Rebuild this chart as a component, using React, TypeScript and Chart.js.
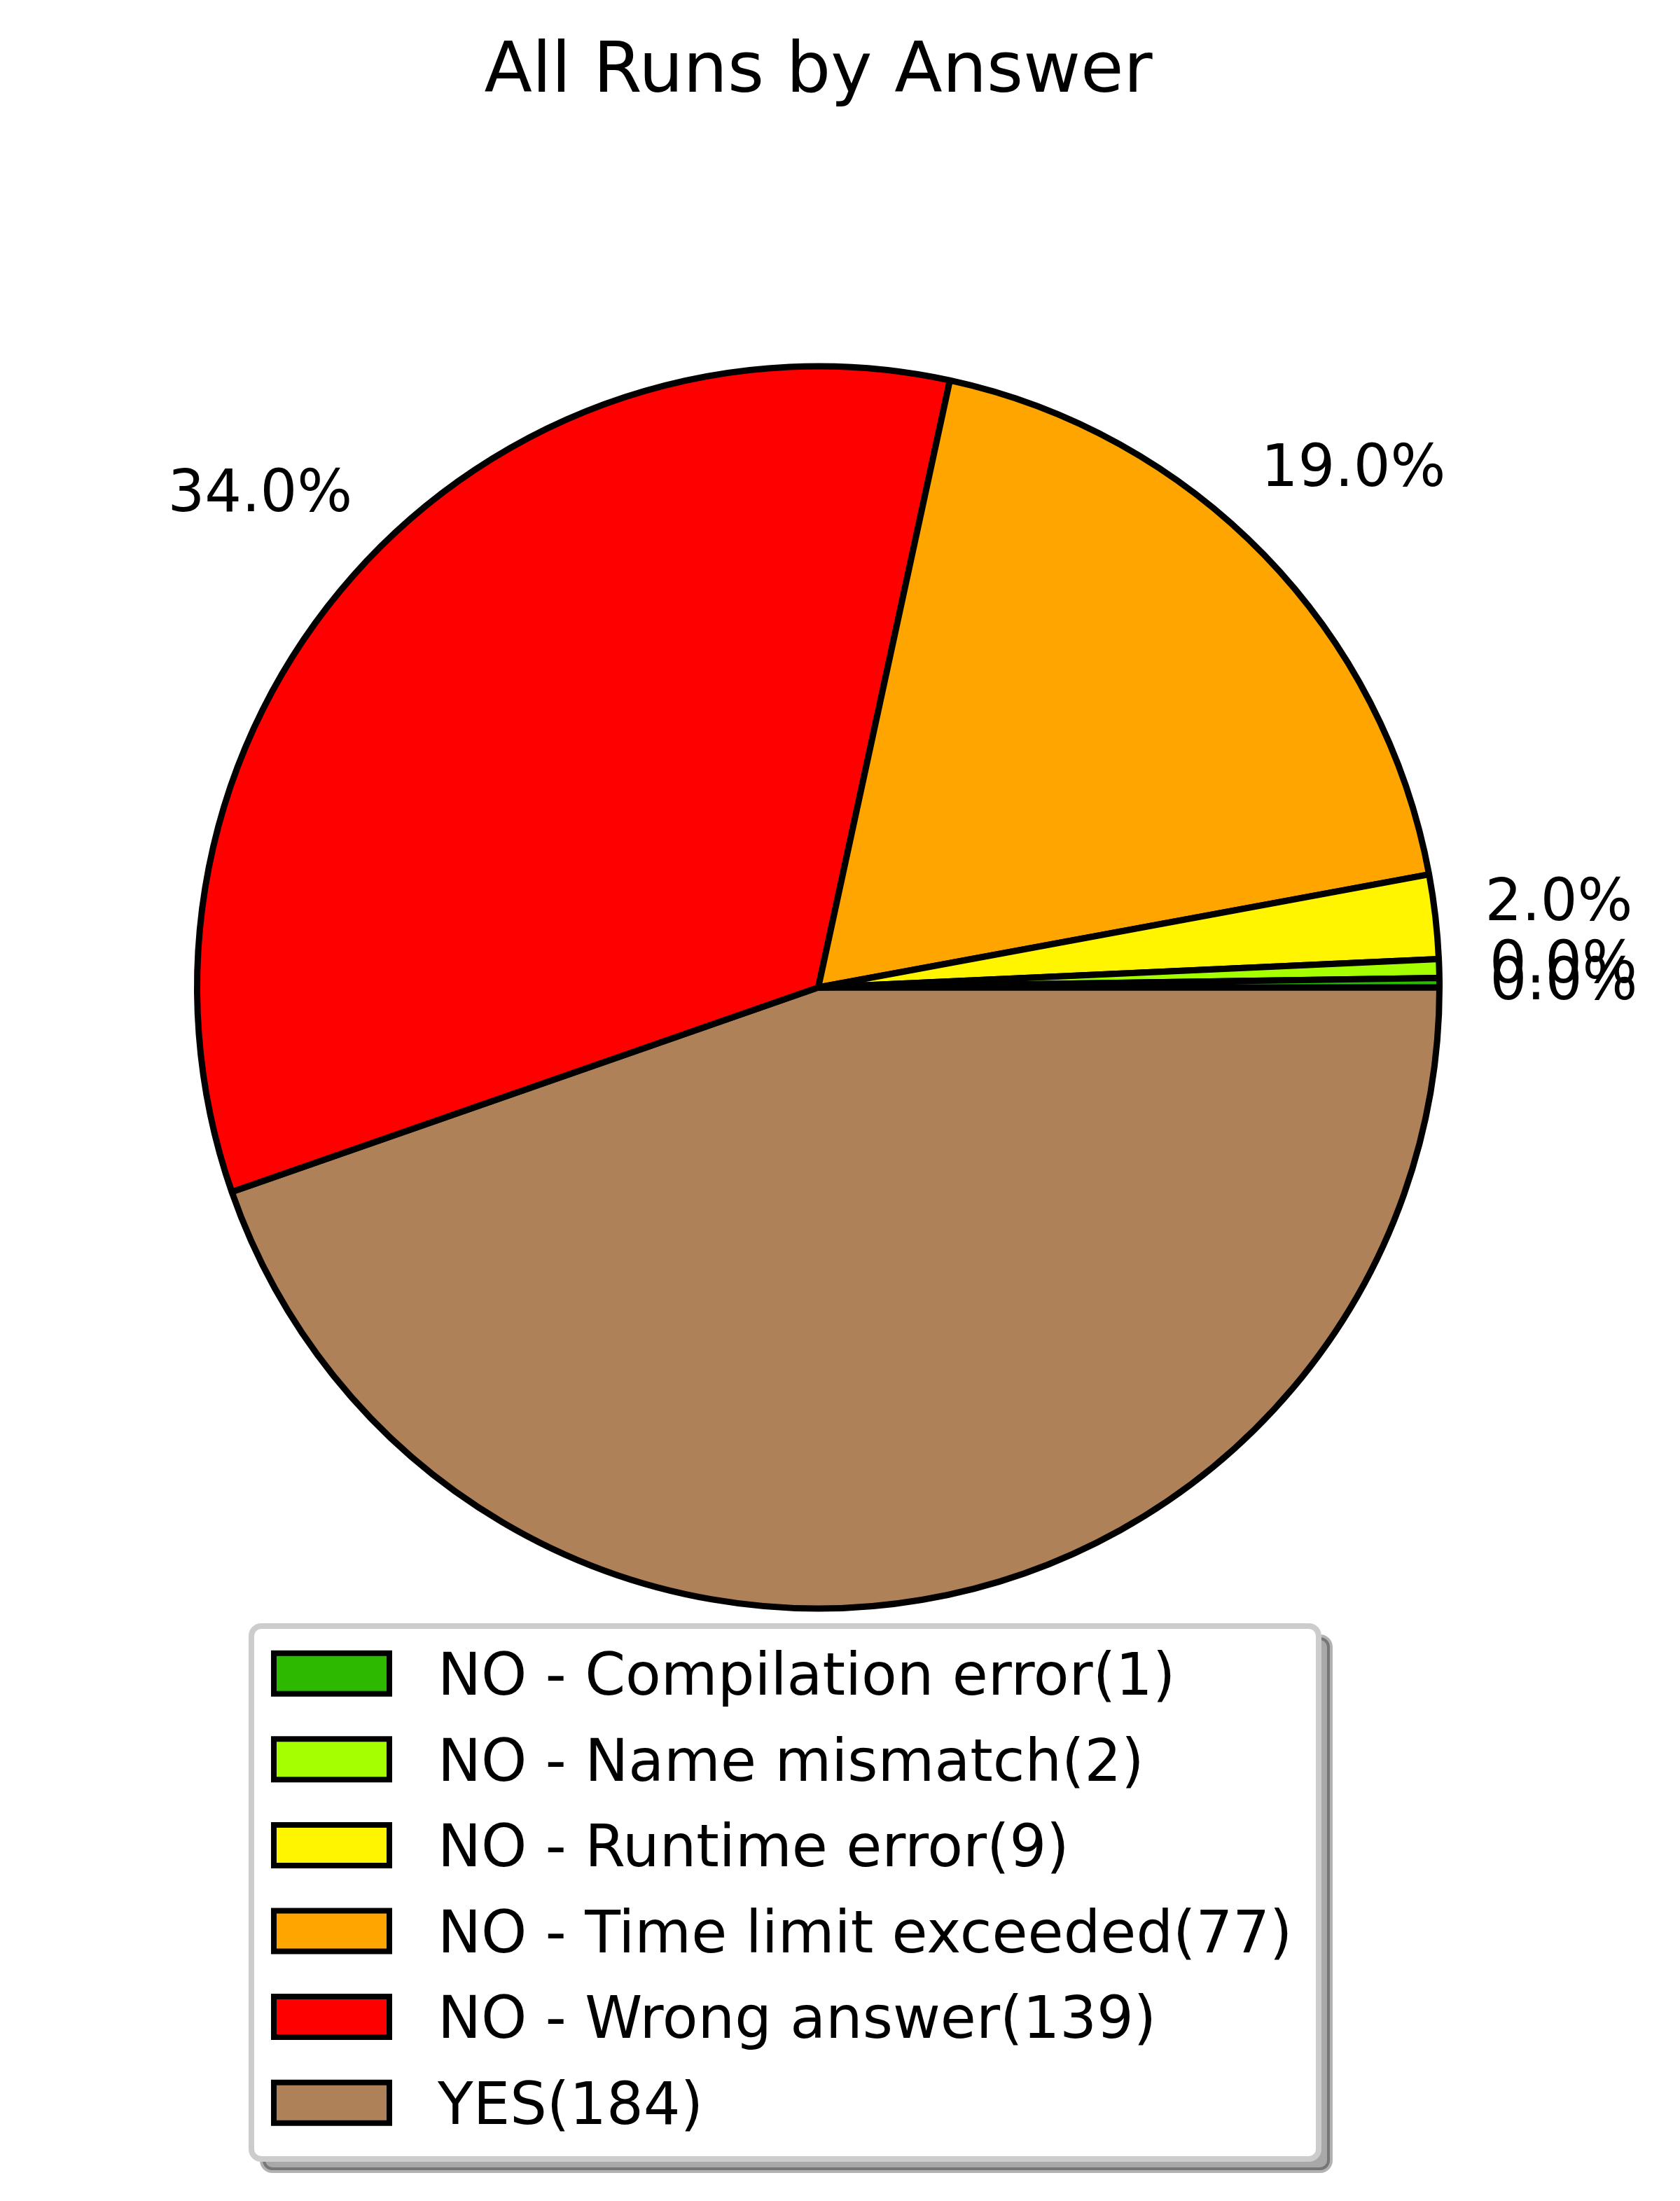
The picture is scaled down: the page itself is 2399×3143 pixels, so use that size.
import { useEffect, useRef } from 'react';
import { Chart, registerables, Plugin } from 'chart.js';

Chart.register(...registerables);

// answers in legend order (matplotlib draws them counter-clockwise from 3 o'clock)
const answers = [
  'NO - Compilation error',
  'NO - Name mismatch',
  'NO - Runtime error',
  'NO - Time limit exceeded',
  'NO - Wrong answer',
  'YES',
];
const runCounts = [1, 2, 9, 77, 139, 184];
const pctLabels = ['0.0%', '0.0%', '2.0%', '19.0%', '34.0%', ''];
const sliceColors = ['#2cb900', '#a6ff00', '#fff500', '#ffa500', '#ff0000', '#af8159'];

const W = 2399;
const H = 3143;
const FONT = '"DejaVu Sans", "Liberation Sans", sans-serif';

// chart.js goes clockwise, so feed the slices in reverse order
const drawOrder = answers.map((_, i) => answers.length - 1 - i);

const pctPlugin: Plugin<'pie'> = {
  id: 'pctLabels',
  afterDatasetsDraw(chart) {
    const ctx = chart.ctx;
    const meta = chart.getDatasetMeta(0);
    ctx.save();
    ctx.font = `83px ${FONT}`;
    ctx.fillStyle = '#000';
    ctx.textAlign = 'center';
    ctx.textBaseline = 'alphabetic';
    meta.data.forEach((arc: any, j: number) => {
      const text = pctLabels[drawOrder[j]];
      if (!text) return;
      const { x, y, startAngle, endAngle, outerRadius } = arc.getProps(
        ['x', 'y', 'startAngle', 'endAngle', 'outerRadius'],
        true
      );
      const mid = (startAngle + endAngle) / 2;
      const r = outerRadius * 1.2;
      ctx.fillText(text, x + r * Math.cos(mid), y + r * Math.sin(mid) + 25);
    });
    ctx.restore();
  },
};

function roundRect(ctx: CanvasRenderingContext2D, x: number, y: number, w: number, h: number, r: number) {
  ctx.beginPath();
  ctx.moveTo(x + r, y);
  ctx.lineTo(x + w - r, y);
  ctx.arcTo(x + w, y, x + w, y + r, r);
  ctx.lineTo(x + w, y + h - r);
  ctx.arcTo(x + w, y + h, x + w - r, y + h, r);
  ctx.lineTo(x + r, y + h);
  ctx.arcTo(x, y + h, x, y + h - r, r);
  ctx.lineTo(x, y + r);
  ctx.arcTo(x, y, x + r, y, r);
  ctx.closePath();
}

// matplotlib style legend: rounded frame with a drop shadow
const legendPlugin: Plugin<'pie'> = {
  id: 'boxLegend',
  afterDraw(chart) {
    const ctx = chart.ctx;
    const fx = 359, fy = 2322, fw = 1524, fh = 761;
    ctx.save();
    // shadow
    roundRect(ctx, fx + 16, fy + 16, fw, fh, 14);
    ctx.fillStyle = 'rgba(0,0,0,0.34)';
    ctx.fill();
    ctx.lineWidth = 8;
    ctx.strokeStyle = 'rgba(0,0,0,0.3)';
    ctx.stroke();
    // frame
    roundRect(ctx, fx, fy, fw, fh, 14);
    ctx.fillStyle = '#fff';
    ctx.fill();
    ctx.strokeStyle = '#cccccc';
    ctx.stroke();

    ctx.font = `83px ${FONT}`;
    ctx.textAlign = 'left';
    ctx.textBaseline = 'alphabetic';
    answers.forEach((name, i) => {
      const top = 2356.7 + i * 122.6;
      ctx.beginPath();
      ctx.rect(391, top + 4, 165, 58);
      ctx.fillStyle = sliceColors[i];
      ctx.fill();
      ctx.lineWidth = 8;
      ctx.strokeStyle = '#000';
      ctx.stroke();
      ctx.fillStyle = '#000';
      ctx.fillText(`${name}(${runCounts[i]})`, 625, top + 63.3);
    });
    ctx.restore();
  },
};

function RunsPie() {
  const chartRef = useRef<HTMLCanvasElement | null>(null);
  const chartInstance = useRef<Chart<'pie'> | null>(null);

  useEffect(() => {
    document.body.style.margin = '0';
    if (!chartRef.current) return;
    if (chartInstance.current) {
      chartInstance.current.destroy();
    }
    const ctx = chartRef.current.getContext('2d');
    if (!ctx) return;

    chartInstance.current = new Chart(ctx, {
      type: 'pie',
      data: {
        labels: drawOrder.map(i => answers[i]),
        datasets: [{
          data: drawOrder.map(i => runCounts[i]),
          backgroundColor: drawOrder.map(i => sliceColors[i]),
          borderColor: '#000',
          borderWidth: 9,
          hoverOffset: 0,
        }],
      },
      options: {
        responsive: false,
        devicePixelRatio: 1,
        animation: false,
        rotation: 90,
        radius: 887,
        layout: {
          padding: { top: 0, left: 200, right: 262, bottom: 493 },
        },
        plugins: {
          legend: { display: false },
          tooltip: { enabled: false },
          title: {
            display: true,
            text: 'All Runs by Answer',
            fullSize: false,
            color: '#000',
            font: { family: FONT, size: 100, weight: 'normal', lineHeight: 1.2 },
            padding: { top: 45, bottom: 5 },
          },
        },
      },
      plugins: [pctPlugin, legendPlugin],
    });

    return () => {
      if (chartInstance.current) {
        chartInstance.current.destroy();
        chartInstance.current = null;
      }
    };
  }, []);

  return (
    <div style={{ width: W, height: H, background: '#fff' }}>
      <canvas ref={chartRef} width={W} height={H} style={{ display: 'block' }} />
    </div>
  );
}

export default function App() {
  return <RunsPie />;
}
